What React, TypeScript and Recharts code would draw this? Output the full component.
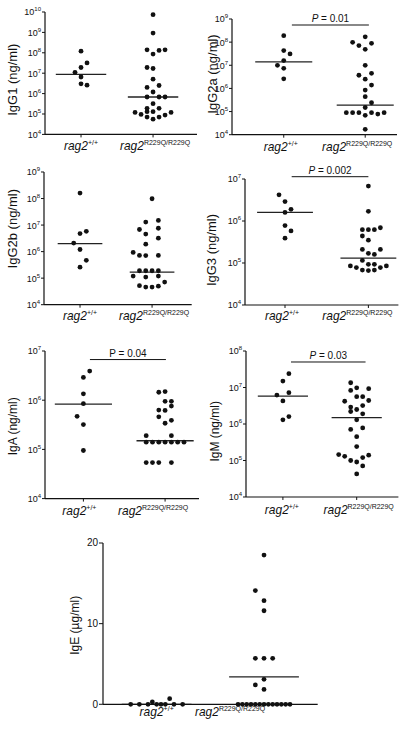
import React from 'react';
import { ScatterChart, Scatter, XAxis, YAxis, ReferenceLine } from 'recharts';

// values; *_COL is the swarm column of each dot (0 = centred on the group)
const GROUP_SUP = ['+/+', 'R229Q/R229Q'];

const IGG1_WT = [1.2e8, 3.2e7, 1.9e7, 1.1e7, 6.5e6, 3.0e6, 2.6e6];
const IGG1_WT_COL = [0, 1, 0, -1, 0, 0, 1];
const IGG1_MUT = [7.4e9, 9.3e8, 1.4e8, 8.7e7, 1.3e8, 1.4e8, 1.9e7, 1.7e7, 5.1e6, 2.0e6, 2.5e6, 1.2e6, 6.8e5, 6.8e5, 6.8e5, 3.2e5, 1.9e5, 1.9e5, 1.2e5, 9.5e4, 1.3e5, 1.3e5, 7.1e4, 5.6e4, 7.1e4, 8.9e4, 1.2e5];
const IGG1_MUT_COL = [0, 0, -1, 0, 1, 2, -1, 0, 0, -1, 1, 0, -1, 1, 2, 0, -1, 1, -3, -2, -1, 0, -1, 0, 1, 2, 3];
const IGG1_MEDIAN = [8.7e6, 6.8e5];

const IGG2A_WT = [1.9e8, 4.3e7, 3.1e7, 1.6e7, 1.0e7, 7.4e6, 2.6e6];
const IGG2A_WT_COL = [0, 0, 1, 0, -1, 0, 0];
const IGG2A_MUT = [1.7e8, 9.8e7, 7.1e7, 8.9e7, 4.9e7, 1.0e7, 4.5e6, 3.7e6, 2.5e6, 1.4e6, 8.5e5, 4.4e5, 2.4e5, 1.5e5, 8.9e4, 8.9e4, 8.9e4, 8.9e4, 7.8e4, 8.9e4, 6.9e4, 1.7e4];
const IGG2A_MUT_COL = [0, -2, -1, 1, 0, 0, 1, -1, 0, 1, 0, 0, 1, 0, -3, -2, -1, 1, 2, 3, 0, 0];
const IGG2A_MEDIAN = [1.4e7, 1.9e5];

const IGG2B_WT = [1.6e8, 5.8e6, 4.8e6, 2.1e6, 1.2e6, 4.7e5, 2.6e5];
const IGG2B_WT_COL = [0, 1, 0, -1, 0, 1, 0];
const IGG2B_MUT = [9.8e7, 1.3e7, 1.5e7, 6.8e6, 7.6e6, 4.6e6, 3.2e6, 1.9e6, 9.3e5, 7.2e5, 7.1e5, 7.2e5, 1.9e5, 1.9e5, 1.9e5, 1.9e5, 1.2e5, 1.1e5, 1.2e5, 7.1e4, 5.2e4, 4.6e4, 4.6e4, 5.0e4];
const IGG2B_MUT_COL = [0, -1, 1, -2, 1, -1, 1, -1, -3, -2, -1, 1, -2, -1, 0, 1, -3, -1, 1, 2, -2, -1, 0, 1];
const IGG2B_MEDIAN = [2.0e6, 1.7e5];

const IGG3_WT = [4.2e6, 2.9e6, 1.9e6, 1.6e6, 7.8e5, 5.8e5, 3.9e5];
const IGG3_WT_COL = [-1, 0, 1, 0, 0, 1, 0];
const IGG3_MUT = [6.8e6, 1.7e6, 6.9e5, 6.2e5, 6.2e5, 6.2e5, 4.4e5, 3.5e5, 2.1e5, 2.1e5, 1.7e5, 1.6e5, 1.15e5, 9.3e4, 9.3e4, 8.5e4, 7.8e4, 7.8e4, 8.5e4, 6.8e4, 6.6e4, 6.8e4];
const IGG3_MUT_COL = [0, 0, 2, -1, 0, 1, -1, 0, -1, 2, 0, 1, -1, 0, 1, -3, -2, 2, 3, -1, 0, 1];
const IGG3_MEDIAN = [1.6e6, 1.3e5];

const IGA_WT = [3.9e6, 2.9e6, 1.35e6, 8.5e5, 4.7e5, 3.2e5, 9.5e4];
const IGA_WT_COL = [1, 0, 0, 0, -1, 0, 0];
const IGA_MUT = [1.45e6, 1.5e6, 9.5e5, 9.5e5, 7.6e5, 6.3e5, 6.2e5, 4.6e5, 3.9e5, 3.4e5, 1.9e5, 1.9e5, 1.4e5, 1.4e5, 1.4e5, 1.4e5, 1.4e5, 1.4e5, 1.4e5, 5.4e4, 5.4e4, 5.4e4, 5.4e4];
const IGA_MUT_COL = [-1, 0, 0, 1, 1, -1, 0, -1, 1, 0, -3, 1, -3, -2, -1, 0, 1, 2, 3, -3, -2, -1, 1];
const IGA_MEDIAN = [8.3e5, 1.5e5];

const IGM_WT = [2.4e7, 1.5e7, 7.2e6, 6.2e6, 4.3e6, 1.6e6, 1.3e6];
const IGM_WT_COL = [1, 0, 1, -1, 0, 1, 0];
const IGM_MUT = [1.35e7, 8.3e6, 9.8e6, 9.3e6, 5.6e6, 5.6e6, 4.4e6, 4.2e6, 3.2e6, 2.9e6, 2.5e6, 2.2e6, 1.9e6, 1.3e6, 7.1e5, 7.8e5, 4.5e5, 2.4e5, 1.45e5, 1.3e5, 1.0e5, 9.1e4, 1.2e5, 1.4e5, 7.1e4, 4.3e4];
const IGM_MUT_COL = [-1, -1, 0, 2, 0, 1, 2, -2, 1, -1, 0, -1, 1, 0, -1, 1, 0, 0, -3, -2, -1, 0, 1, 2, 1, 0];
const IGM_MEDIAN = [5.8e6, 1.5e6];

const IGE_WT = [0, 0, 0, 0.3, 0, 0, 0, 0.7, 0, 0];
const IGE_WT_COL = [-6, -4, -2, -1, 0, 1, 2, 3, 4, 6];
const IGE_MUT = [18.5, 14.1, 12.85, 11.6, 5.7, 5.7, 5.7, 3.1, 2.4, 1.85, 0, 0, 0, 0, 0, 0, 0, 0, 0, 0, 0, 0, 0];
const IGE_MUT_COL = [0, -2, 0, 0, -2, 0, 2, 0, -2, 0, -6, -5, -4, -3, -2, -1, 0, 1, 2, 3, 4, 5, 6];
const IGE_MEDIAN = [0, 3.4];

const TICKS_4_10 = [1e4, 1e5, 1e6, 1e7, 1e8, 1e9, 1e10];
const TICKS_4_9 = [1e4, 1e5, 1e6, 1e7, 1e8, 1e9];
const TICKS_4_8 = [1e4, 1e5, 1e6, 1e7, 1e8];
const TICKS_4_7 = [1e4, 1e5, 1e6, 1e7];
const TICKS_IGE = [0, 10, 20];

const INK = '#111';
const Y_W = 40;
const TOP_PAD = 16;
const RIGHT_PAD = 4;
const X_H = 30;

type PVal = { label: string; y: number; from: number; to: number; italic: boolean };

type Panel = {
  title: string;
  wt: number[];
  wtCol: number[];
  mut: number[];
  mutCol: number[];
  median: number[];
  yTicks: number[];
  log: boolean;
  p?: PVal;
  axisX: number;
  axisEnd: number;
  yTop: number;
  yBot: number;
  xDomain: [number, number];
  colPx: number;
  halfW: number;
  labelX: number;
  labelY: number;
  labelSize: number;
  catShift: number[];
  catGap: number;
  xTicks: boolean;
};

const PANELS: Panel[] = [
  {
    title: 'IgG1 (ng/ml)', wt: IGG1_WT, wtCol: IGG1_WT_COL, mut: IGG1_MUT, mutCol: IGG1_MUT_COL,
    median: IGG1_MEDIAN, yTicks: TICKS_4_10, log: true,
    axisX: 45, axisEnd: 197, yTop: 12.3, yBot: 134.7, xDomain: [0, 4.22], colPx: 6, halfW: 0.7,
    labelX: 12, labelY: 80, labelSize: 13, catShift: [0, 2], catGap: 15.5, xTicks: true,
  },
  {
    title: 'IgG2a (ng/ml)', wt: IGG2A_WT, wtCol: IGG2A_WT_COL, mut: IGG2A_MUT, mutCol: IGG2A_MUT_COL,
    median: IGG2A_MEDIAN, yTicks: TICKS_4_9, log: true,
    p: { label: '0.01', y: 5.5e8, from: 1.2, to: 3.09, italic: true },
    axisX: 232, axisEnd: 397, yTop: 19, yBot: 134.7, xDomain: [-0.27, 3.78], colPx: 6.3, halfW: 0.7,
    labelX: 212, labelY: 74, labelSize: 13, catShift: [-3, -8], catGap: 16.5, xTicks: true,
  },
  {
    title: 'IgG2b (ng/ml)', wt: IGG2B_WT, wtCol: IGG2B_WT_COL, mut: IGG2B_MUT, mutCol: IGG2B_MUT_COL,
    median: IGG2B_MEDIAN, yTicks: TICKS_4_9, log: true,
    axisX: 44, axisEnd: 191.7, yTop: 172.3, yBot: 305, xDomain: [0, 4.1], colPx: 6.3, halfW: 0.62,
    labelX: 12, labelY: 229, labelSize: 13, catShift: [0, 2], catGap: 15, xTicks: true,
  },
  {
    title: 'IgG3 (ng/ml)', wt: IGG3_WT, wtCol: IGG3_WT_COL, mut: IGG3_MUT, mutCol: IGG3_MUT_COL,
    median: IGG3_MEDIAN, yTicks: TICKS_4_7, log: true,
    p: { label: '0.002', y: 1.135e7, from: 1.16, to: 3.0, italic: true },
    axisX: 245.3, axisEnd: 398.7, yTop: 179, yBot: 305, xDomain: [0.04, 3.72], colPx: 6, halfW: 0.67,
    labelX: 212, labelY: 250, labelSize: 13, catShift: [-3, -11], catGap: 15, xTicks: true,
  },
  {
    title: 'IgA (ng/ml)', wt: IGA_WT, wtCol: IGA_WT_COL, mut: IGA_MUT, mutCol: IGA_MUT_COL,
    median: IGA_MEDIAN, yTicks: TICKS_4_7, log: true,
    p: { label: '0.04', y: 6.7e6, from: 1.16, to: 3.02, italic: false },
    axisX: 45, axisEnd: 199, yTop: 350.7, yBot: 498.3, xDomain: [0.06, 3.83], colPx: 6.3, halfW: 0.7,
    labelX: 13, labelY: 426, labelSize: 12, catShift: [-4, -12], catGap: 16.5, xTicks: true,
  },
  {
    title: 'IgM (ng/ml)', wt: IGM_WT, wtCol: IGM_WT_COL, mut: IGM_MUT, mutCol: IGM_MUT_COL,
    median: IGM_MEDIAN, yTicks: TICKS_4_8, log: true,
    p: { label: '0.03', y: 5.0e7, from: 1.22, to: 3.24, italic: true },
    axisX: 246.3, axisEnd: 398.7, yTop: 350.7, yBot: 496.7, xDomain: [0, 4.13], colPx: 6, halfW: 0.68,
    labelX: 215, labelY: 431, labelSize: 12, catShift: [-1, 2], catGap: 17, xTicks: true,
  },
  {
    title: 'IgE (\u00b5g/ml)', wt: IGE_WT, wtCol: IGE_WT_COL, mut: IGE_MUT, mutCol: IGE_MUT_COL,
    median: IGE_MEDIAN, yTicks: TICKS_IGE, log: false,
    axisX: 103.3, axisEnd: 318, yTop: 542.7, yBot: 704, xDomain: [0, 4.0], colPx: 4.33, halfW: 0.65,
    labelX: 75, labelY: 625, labelSize: 12, catShift: [0, -34], catGap: 11.5, xTicks: false,
  },
];

function Dot(props: any) {
  if (props.cx == null || props.cy == null) return <g />;
  return <circle cx={props.cx} cy={props.cy} r={2.4} fill={INK} />;
}

function PanelChart({ p }: { p: Panel }) {
  const left = p.axisX - Y_W;
  const top = p.yTop - TOP_PAD;
  const width = Math.min(404 - left, p.axisEnd - left + RIGHT_PAD);
  const height = p.yBot - top + X_H;
  const unit = (p.axisEnd - p.axisX) / (p.xDomain[1] - p.xDomain[0]);
  const step = p.colPx / unit;
  const pts = [
    ...p.wt.map((v, i) => ({ x: 1 + p.wtCol[i] * step, y: v })),
    ...p.mut.map((v, i) => ({ x: 3 + p.mutCol[i] * step, y: v })),
  ];
  const xTickSize = p.xTicks ? 3 : 0;

  const catTick = (t: any) => {
    const idx = t.payload.value < 2 ? 0 : 1;
    const base = t.y - xTickSize - 2 + p.catGap;
    return (
      <text x={t.x + p.catShift[idx]} y={base} textAnchor="middle" fill={INK} fontSize={12}>
        <tspan fontStyle="italic">rag2</tspan>
        <tspan fontSize={7} dy={-5}>{GROUP_SUP[idx]}</tspan>
      </text>
    );
  };

  const yTick = (t: any) => {
    const v = t.payload.value;
    if (!p.log) {
      return (
        <text x={t.x} y={t.y + 3.5} textAnchor="end" fill={INK} fontSize={10}>{v}</text>
      );
    }
    const e = Math.round(Math.log10(v));
    return (
      <text x={t.x} y={t.y + 3.5} textAnchor="end" fill={INK} fontSize={9}>
        10<tspan fontSize={6} dy={-4}>{e}</tspan>
      </text>
    );
  };

  const yLabel = () => (
    <text
      transform={`translate(${p.labelX - left},${p.labelY - top}) rotate(-90)`}
      textAnchor="middle"
      dy="0.35em"
      fontSize={p.labelSize}
      fill={INK}
    >
      {p.title}
    </text>
  );

  const pLabel = (props: any) => {
    const vb = props.viewBox || { x: 0, y: 0, width: 0 };
    return (
      <text x={vb.x + vb.width / 2} y={vb.y - 3} textAnchor="middle" fontSize={10} fill={INK}>
        <tspan fontStyle={p.p && p.p.italic ? 'italic' : 'normal'}>P</tspan> = {p.p ? p.p.label : ''}
      </text>
    );
  };

  return (
    <div style={{ position: 'absolute', left, top }}>
      <ScatterChart width={width} height={height} margin={{ top: TOP_PAD, right: width - (p.axisEnd - left), bottom: 0, left: 0 }}>
        <XAxis
          type="number"
          dataKey="x"
          domain={p.xDomain}
          ticks={[1, 3]}
          interval={0}
          height={X_H}
          tickSize={xTickSize}
          tickLine={p.xTicks ? { stroke: INK } : false}
          axisLine={{ stroke: INK, strokeWidth: 1.2 }}
          tick={catTick}
        />
        <YAxis
          type="number"
          dataKey="y"
          scale={p.log ? 'log' : 'linear'}
          domain={[p.yTicks[0], p.yTicks[p.yTicks.length - 1]]}
          ticks={p.yTicks}
          interval={0}
          width={Y_W}
          tickSize={p.log ? 3 : 4}
          tickMargin={1}
          tickLine={{ stroke: INK }}
          axisLine={{ stroke: INK, strokeWidth: 1.2 }}
          tick={yTick}
          label={yLabel}
        />
        {p.median.map((m, i) => (
          <ReferenceLine
            key={`med-${i}`}
            segment={[{ x: 1 + 2 * i - p.halfW, y: m }, { x: 1 + 2 * i + p.halfW, y: m }]}
            stroke="#222"
            strokeWidth={1.3}
            ifOverflow="visible"
          />
        ))}
        {p.p && (
          <ReferenceLine
            segment={[{ x: p.p.from, y: p.p.y }, { x: p.p.to, y: p.p.y }]}
            stroke={INK}
            strokeWidth={1}
            ifOverflow="visible"
            label={pLabel}
          />
        )}
        <Scatter data={pts} shape={Dot} isAnimationActive={false} />
      </ScatterChart>
    </div>
  );
}

export default function App() {
  return (
    <div
      style={{
        position: 'absolute',
        left: 0,
        top: 0,
        width: 404,
        height: 734,
        background: '#fff',
        fontFamily: '"Liberation Sans", Arial, Helvetica, sans-serif',
      }}
    >
      {PANELS.map((p) => (
        <PanelChart key={p.title} p={p} />
      ))}
    </div>
  );
}
